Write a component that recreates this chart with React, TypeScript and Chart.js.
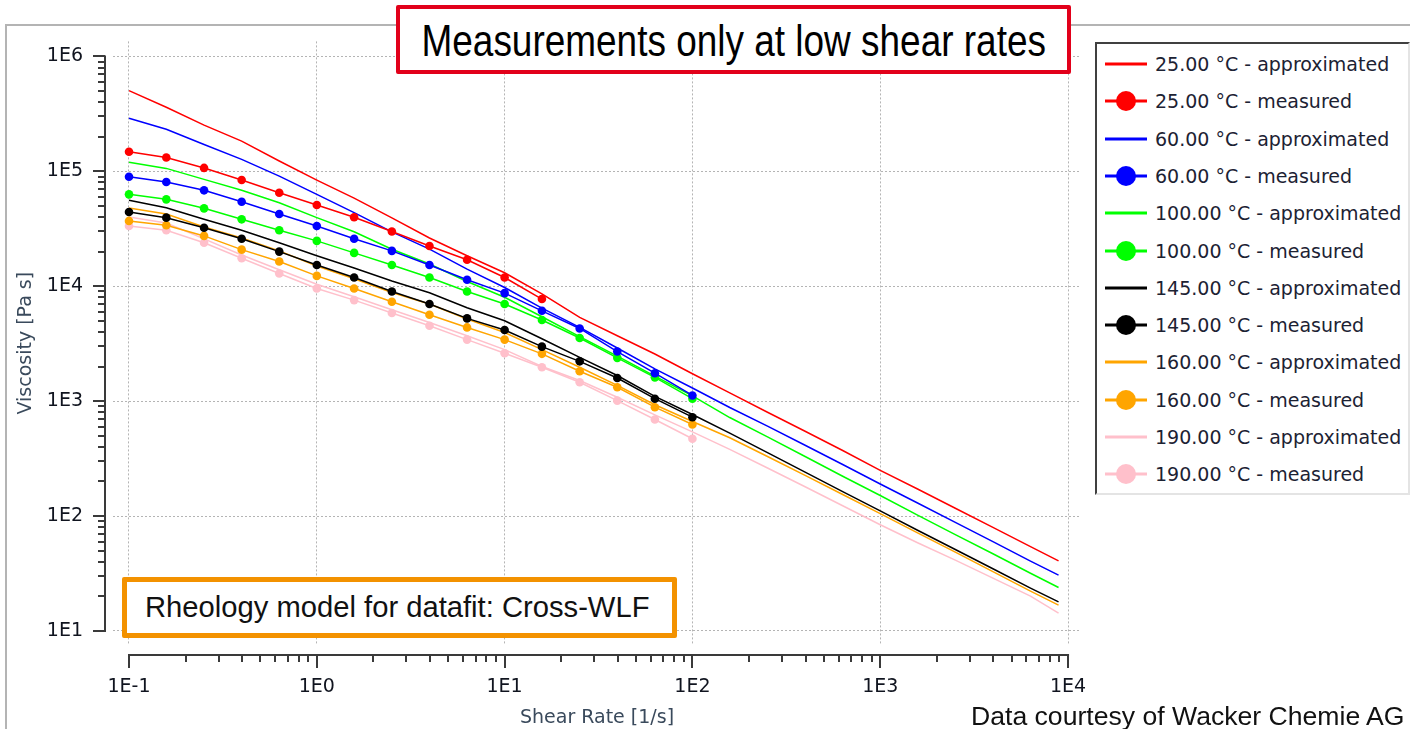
import React, { useEffect, useRef } from 'react';
import { Chart, registerables } from 'chart.js';

Chart.register(...registerables);

// Shear rate grid [1/s]
const SHEAR_RATE = [0.1, 0.158, 0.251, 0.398, 0.631, 1, 1.58, 2.51, 3.98, 6.31, 10, 15.8, 25.1, 39.8, 63.1, 100, 158, 251, 398, 631, 1000, 1580, 2510, 3980, 6310, 8900];

// Viscosity [Pa s]
const APPROX_25 = [504000, 361000, 252000, 183000, 123000, 83900, 58500, 39300, 26300, 18400, 13100, 8590, 5350, 3710, 2570, 1730, 1180, 801, 547, 372, 250, 172, 117, 79.8, 54.2, 40.7];
const MEAS_25 = [148000, 132000, 107000, 83900, 65100, 50900, 39800, 29900, 22400, 17000, 11900, 7730];

const APPROX_60 = [290000, 232000, 171000, 127000, 90900, 63000, 43700, 29700, 21000, 14100, 9740, 6450, 4380, 2900, 1910, 1300, 881, 607, 413, 281, 190, 130, 88, 60, 40.6, 30.6];
const MEAS_60 = [89600, 80600, 68300, 54300, 42500, 33400, 25900, 20300, 15300, 11400, 8710, 6110, 4290, 2700, 1750, 1120];

const APPROX_100 = [120000, 106000, 85100, 68300, 53300, 39500, 29800, 21000, 15600, 11000, 8010, 5420, 3640, 2460, 1650, 1110, 720, 488, 330, 222, 151, 102, 69, 47, 31.8, 23.9];
const MEAS_100 = [63000, 57000, 47600, 38200, 30700, 24800, 19500, 15300, 11900, 8990, 7000, 5080, 3540, 2380, 1610, 1050];

const APPROX_145 = [55900, 48200, 38200, 30700, 23900, 18400, 14400, 11100, 8770, 6490, 5010, 3490, 2400, 1670, 1100, 765, 526, 356, 241, 163, 111, 75.3, 51.2, 34.8, 23.6, 17.9];
const MEAS_145 = [44200, 39500, 32300, 25900, 20000, 15300, 11900, 9000, 7000, 5250, 4160, 2980, 2220, 1590, 1050, 725];

const APPROX_160 = [47900, 42500, 32800, 26300, 20300, 15000, 11600, 8810, 7000, 5180, 3960, 2810, 1970, 1370, 930, 665, 480, 330, 226, 154, 105, 71.5, 48.5, 32.8, 22.2, 16.8];
const MEAS_160 = [37000, 33900, 27400, 20800, 16400, 12300, 9550, 7320, 5650, 4380, 3430, 2580, 1820, 1320, 886, 626];

const APPROX_190 = [40000, 35500, 25800, 18700, 13900, 10400, 8090, 6240, 4840, 3710, 2810, 2000, 1510, 1080, 760, 540, 380, 262, 180, 123, 84, 58.6, 41.3, 28.8, 20.1, 14.3];
const MEAS_190 = [33400, 30700, 23900, 17500, 12900, 9550, 7570, 5840, 4530, 3430, 2610, 1970, 1460, 1010, 692, 471];

const TEMPERATURES = ['25.00 °C', '60.00 °C', '100.00 °C', '145.00 °C', '160.00 °C', '190.00 °C'];
const COLORS = ['#ff0000', '#0000ff', '#00ff00', '#000000', '#ffa500', '#ffc0cb'];
const APPROX = [APPROX_25, APPROX_60, APPROX_100, APPROX_145, APPROX_160, APPROX_190];
const MEASURED = [MEAS_25, MEAS_60, MEAS_100, MEAS_145, MEAS_160, MEAS_190];

const X_TICKS = [0.1, 1, 10, 100, 1000, 10000];
const X_TICK_LABELS = ['1E-1', '1E0', '1E1', '1E2', '1E3', '1E4'];
const Y_TICKS = [10, 100, 1000, 10000, 100000, 1000000];
const Y_TICK_LABELS = ['1E1', '1E2', '1E3', '1E4', '1E5', '1E6'];

const X_TITLE = 'Shear Rate [1/s]';
const Y_TITLE = 'Viscosity [Pa s]';
const NOTE_TOP = 'Measurements only at low shear rates';
const NOTE_MODEL = 'Rheology model for datafit: Cross-WLF';
const CREDIT = 'Data courtesy of Wacker Chemie AG';

const TICK_FONT = { family: '"DejaVu Sans", sans-serif', size: 19 };
const TICK_COLOR = '#10141f';
const TITLE_COLOR = '#3a4a5c';

const legendItems = TEMPERATURES.flatMap((t, i) => [
  { label: `${t} - approximated`, color: COLORS[i], marker: false },
  { label: `${t} - measured`, color: COLORS[i], marker: true },
]);

const offsetAxesPlugin = {
  id: 'offsetAxes',
  afterDraw(chart: any) {
    const { ctx, chartArea } = chart;
    const xs = chart.scales.x;
    const ys = chart.scales.y;
    const axisX = chartArea.left - 8;
    const axisY = chartArea.bottom + 10;
    ctx.save();
    ctx.strokeStyle = '#3a3a3a';
    ctx.lineWidth = 2;
    // y axis
    const yTop = ys.getPixelForValue(Y_TICKS[Y_TICKS.length - 1]);
    const yBot = ys.getPixelForValue(Y_TICKS[0]);
    ctx.beginPath();
    ctx.moveTo(axisX, yTop - 1);
    ctx.lineTo(axisX, yBot + 1);
    Y_TICKS.forEach((d, i) => {
      const p = Math.round(ys.getPixelForValue(d));
      ctx.moveTo(axisX - 12, p);
      ctx.lineTo(axisX, p);
      if (i < Y_TICKS.length - 1) {
        for (let m = 2; m <= 9; m++) {
          const q = Math.round(ys.getPixelForValue(d * m));
          ctx.moveTo(axisX - 7, q);
          ctx.lineTo(axisX, q);
        }
      }
    });
    ctx.stroke();
    // x axis
    const xL = xs.getPixelForValue(X_TICKS[0]);
    const xR = xs.getPixelForValue(X_TICKS[X_TICKS.length - 1]);
    ctx.beginPath();
    ctx.moveTo(xL - 1, axisY);
    ctx.lineTo(xR + 1, axisY);
    X_TICKS.forEach((d, i) => {
      const p = Math.round(xs.getPixelForValue(d));
      ctx.moveTo(p, axisY);
      ctx.lineTo(p, axisY + 13);
      if (i < X_TICKS.length - 1) {
        for (let m = 2; m <= 9; m++) {
          const q = Math.round(xs.getPixelForValue(d * m));
          ctx.moveTo(q, axisY);
          ctx.lineTo(q, axisY + 7);
        }
      }
    });
    ctx.stroke();
    ctx.restore();
  },
};

export default function App() {
  const canvasRef = useRef<HTMLCanvasElement>(null);

  useEffect(() => {
    const datasets: any[] = [];
    TEMPERATURES.forEach((t, i) => {
      datasets.push({
        label: `${t} - approximated`,
        data: APPROX[i].map((y, k) => ({ x: SHEAR_RATE[k], y })),
        borderColor: COLORS[i],
        backgroundColor: COLORS[i],
        borderWidth: 1.5,
        pointRadius: 0,
        tension: 0,
      });
      datasets.push({
        label: `${t} - measured`,
        data: MEASURED[i].map((y, k) => ({ x: SHEAR_RATE[k], y })),
        borderColor: COLORS[i],
        backgroundColor: COLORS[i],
        borderWidth: 1.5,
        pointRadius: 4.3,
        pointBorderWidth: 0,
        pointStyle: 'circle',
        tension: 0,
      });
    });

    const chart = new Chart(canvasRef.current as HTMLCanvasElement, {
      type: 'line',
      data: { datasets },
      options: {
        animation: false,
        responsive: false,
        devicePixelRatio: 1,
        layout: { padding: { left: 8, top: 40, right: 329, bottom: 0 } },
        plugins: { legend: { display: false }, tooltip: { enabled: false } },
        scales: {
          x: {
            type: 'logarithmic',
            min: 0.08219,
            max: 11720,
            bounds: 'data',
            afterBuildTicks: (s: any) => {
              s.ticks = X_TICKS.map((v) => ({ value: v }));
            },
            afterFit: (s: any) => {
              s.height = 84;
            },
            ticks: {
              callback: (_v: any, i: number) => X_TICK_LABELS[i],
              font: TICK_FONT,
              color: TICK_COLOR,
              padding: 31,
              maxRotation: 0,
              autoSkip: false,
            },
            grid: { color: '#b4b4b4', lineWidth: 1, drawTicks: false },
            border: { display: false, dash: [2, 2] },
            title: {
              display: true,
              text: X_TITLE,
              font: { family: '"DejaVu Sans", sans-serif', size: 19 },
              color: TITLE_COLOR,
              padding: { top: 0, bottom: 0 },
            },
          },
          y: {
            type: 'logarithmic',
            min: 7.55,
            max: 1350000,
            bounds: 'data',
            afterBuildTicks: (s: any) => {
              s.ticks = Y_TICKS.map((v) => ({ value: v }));
            },
            afterFit: (s: any) => {
              s.width = 105;
            },
            ticks: {
              callback: (_v: any, i: number) => Y_TICK_LABELS[i],
              font: TICK_FONT,
              color: TICK_COLOR,
              padding: 30,
              autoSkip: false,
            },
            grid: { color: '#b4b4b4', lineWidth: 1, drawTicks: false },
            border: { display: false, dash: [2, 2] },
            title: {
              display: true,
              text: Y_TITLE,
              font: { family: '"DejaVu Sans", sans-serif', size: 19 },
              color: TITLE_COLOR,
              padding: { top: 7, bottom: 0 },
            },
          },
        },
      } as any,
      plugins: [offsetAxesPlugin],
    });
    return () => chart.destroy();
  }, []);

  const rowTop = 64;
  const rowStep = 37.3;

  return (
    <div
      style={{
        position: 'fixed',
        left: 0,
        top: 0,
        width: 1410,
        height: 729,
        background: '#ffffff',
        overflow: 'hidden',
      }}
    >
      <div
        style={{
          position: 'absolute',
          left: 5,
          top: 24,
          width: 1405,
          height: 705,
          borderLeft: '2px solid #b4b4b4',
          borderTop: '2px solid #b4b4b4',
          boxSizing: 'border-box',
        }}
      />
      <canvas
        ref={canvasRef}
        width={1410}
        height={729}
        style={{ position: 'absolute', left: 0, top: 0, width: 1410, height: 729 }}
      />
      {/* top annotation */}
      <div
        style={{
          position: 'absolute',
          left: 396,
          top: 5,
          width: 675,
          height: 69,
          boxSizing: 'border-box',
          border: '4px solid #e2001a',
          borderRadius: 2,
          background: '#ffffff',
          display: 'flex',
          alignItems: 'center',
          justifyContent: 'center',
          paddingTop: 2,
        }}
      >
        <span
          style={{
            display: 'inline-block',
            fontFamily: '"Liberation Sans", Arial, sans-serif',
            fontSize: 44,
            color: '#000000',
            whiteSpace: 'nowrap',
            transform: 'scaleX(0.84)',
            transformOrigin: 'center',
          }}
        >
          {NOTE_TOP}
        </span>
      </div>
      {/* model annotation */}
      <div
        style={{
          position: 'absolute',
          left: 122,
          top: 577,
          width: 555,
          height: 61,
          boxSizing: 'border-box',
          border: '5px solid #f39200',
          borderRadius: 2,
          background: '#ffffff',
          display: 'flex',
          alignItems: 'center',
          paddingLeft: 18,
        }}
      >
        <span
          style={{
            fontFamily: '"Liberation Sans", Arial, sans-serif',
            fontSize: 29.2,
            color: '#111111',
            whiteSpace: 'nowrap',
          }}
        >
          {NOTE_MODEL}
        </span>
      </div>
      {/* credit */}
      <div
        style={{
          position: 'absolute',
          left: 971,
          top: 703,
          fontFamily: '"Liberation Sans", Arial, sans-serif',
          fontSize: 26.6,
          lineHeight: '26px',
          color: '#111111',
          whiteSpace: 'nowrap',
        }}
      >
        {CREDIT}
      </div>
      {/* legend */}
      <div
        style={{
          position: 'absolute',
          left: 1095,
          top: 42,
          width: 315,
          height: 453,
          boxSizing: 'border-box',
          borderLeft: '2px solid #404040',
          borderTop: '2px solid #404040',
          borderRight: '2px solid #e4e4e4',
          borderBottom: '2px solid #e4e4e4',
          background: '#ffffff',
        }}
      />
      {legendItems.map((it, i) => {
        const cy = rowTop + rowStep * i;
        return (
          <div
            key={it.label}
            style={{
              position: 'absolute',
              left: 1105,
              top: cy - 18,
              height: 36,
              display: 'flex',
              alignItems: 'center',
              whiteSpace: 'nowrap',
            }}
          >
            <svg width={42} height={36} style={{ display: 'block' }}>
              <line x1={0} y1={18} x2={42} y2={18} stroke={it.color} strokeWidth={3} />
              {it.marker ? <circle cx={21} cy={18} r={10} fill={it.color} /> : null}
            </svg>
            <span
              style={{
                marginLeft: 8,
                fontFamily: '"DejaVu Sans", sans-serif',
                fontSize: 19,
                color: '#1c2233',
              }}
            >
              {it.label}
            </span>
          </div>
        );
      })}
    </div>
  );
}
